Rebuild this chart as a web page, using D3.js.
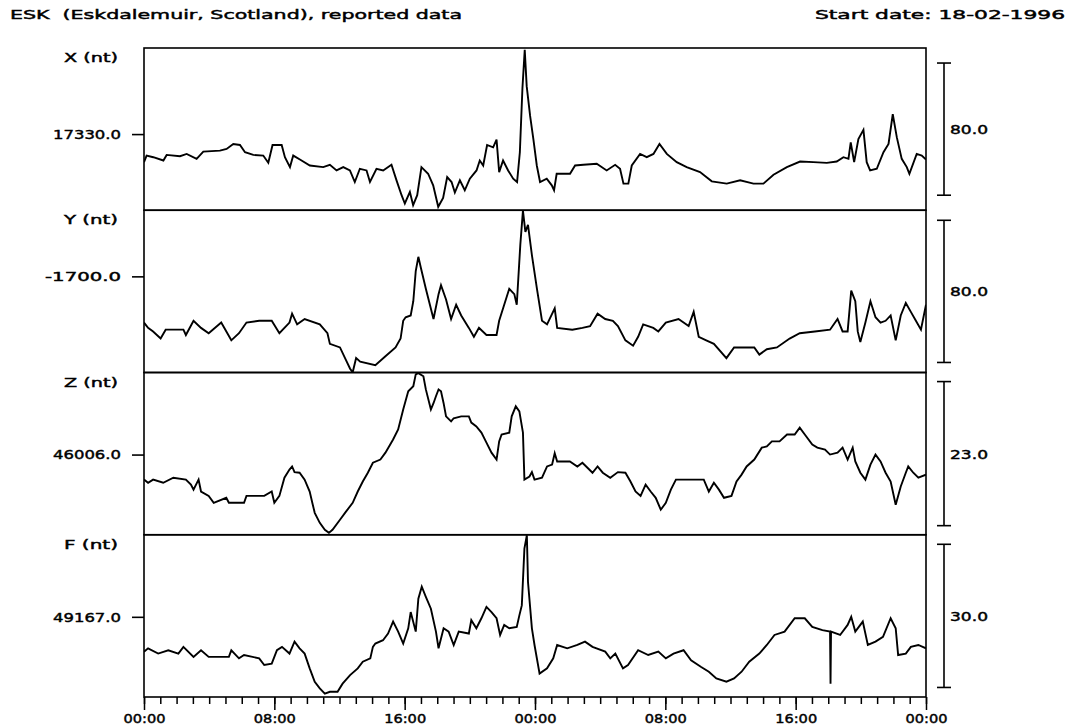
<!DOCTYPE html>
<html><head><meta charset="utf-8">
<script src="https://cdn.jsdelivr.net/npm/d3@7"></script>
<style>
body{margin:0;background:#fff}
svg{display:block}
text{font-family:"DejaVu Sans",sans-serif;font-weight:normal;font-size:13px;fill:#000;stroke:#000;stroke-width:0.45px;white-space:pre}
</style>
</head><body>
<svg id="c" width="1076" height="726"></svg>
<script>
// ---------- data ----------
const titleLeft = "ESK  (Eskdalemuir, Scotland), reported data";
const titleRight = "Start date: 18-02-1996";
const panelNames = ["X (nt)", "Y (nt)", "Z (nt)", "F (nt)"];
const tickValues = [17330.0, -1700.0, 46006.0, 49167.0];
const tickLabels = ["17330.0", "-1700.0", "46006.0", "49167.0"];
const scaleBars = [80.0, 80.0, 23.0, 30.0];
const scaleBarLabels = ["80.0", "80.0", "23.0", "30.0"];
const panelDomains = [[17283.9, 17382.1], [-1754.1, -1662.8], [45993.2, 46019.1], [49150.2, 49184.2]];
const hourTicks = [0, 8, 16, 24, 32, 40, 48];
const hourLabels = ["00:00", "08:00", "16:00", "00:00", "08:00", "16:00", "00:00"];

const xTimes = [0,0.16,0.57,1.19,1.39,2.21,2.62,3.23,3.64,4.66,5.07,5.48,5.89,6.20,6.71,7.32,7.63,7.89,8.45,8.65,8.96,9.16,9.57,10.18,11.00,11.41,11.82,12.23,12.64,12.94,13.25,13.66,13.87,14.27,14.68,15.19,15.50,15.81,16.01,16.32,16.52,16.77,17.03,17.44,17.75,18.06,18.36,18.61,18.88,19.08,19.39,19.69,20.00,20.41,20.61,20.82,21.06,21.43,21.64,21.80,22.04,22.35,22.66,22.90,23.07,23.23,23.37,23.49,23.70,23.90,24.11,24.31,24.72,25.03,25.17,25.33,26.15,26.46,26.97,27.79,28.40,28.92,29.22,29.43,29.73,29.94,30.45,30.86,31.27,31.64,32.09,32.70,33.31,34.13,34.85,35.77,36.59,37.41,38.02,38.64,39.46,40.27,41.09,41.91,42.52,42.93,43.24,43.38,43.59,43.85,44.16,44.36,44.57,44.98,45.39,45.70,45.96,46.21,46.51,46.82,46.98,47.43,47.74,48.0];
const xValues = [17313,17317,17316,17314,17317.4,17316.6,17318,17315,17319.4,17320,17321,17324,17323.4,17319,17317.4,17317,17312.6,17323.4,17323.4,17316,17310,17317,17314.6,17311,17310,17311.4,17308,17310,17308,17301,17309,17308,17301,17309,17308,17311.4,17302,17293,17288,17295,17287,17293,17310,17306,17299,17286,17291.4,17304,17301,17294.6,17302,17296,17303,17308,17314,17311,17323.4,17322,17326.6,17307,17314,17308,17303,17301,17319,17358,17381,17359,17341,17327,17311,17301,17303,17299,17296,17306,17306,17311,17311.4,17312,17308,17311.4,17309,17300,17300,17311,17318,17316,17318,17324,17318,17313,17310,17307,17301.4,17300,17302,17300,17300,17305.4,17310,17313.4,17313,17312.6,17313.4,17316,17315,17325,17313,17327,17332.6,17313,17308,17309,17319,17324,17342,17328,17315,17310,17306,17318,17317,17314.6];

const yTimes = [0,0.25,0.56,1.02,1.33,2.42,2.57,3.04,3.50,3.97,4.74,5.36,5.83,6.29,7.07,7.84,8.31,8.93,9.09,9.40,9.86,10.79,11.26,11.41,12.03,12.34,12.65,12.81,13.02,13.27,14.20,14.82,15.44,15.75,15.91,16.06,16.37,16.53,16.68,16.84,16.99,17.30,17.77,18.08,18.23,18.54,18.85,19.16,19.47,19.94,20.25,20.56,21.02,21.64,21.80,22.11,22.42,22.73,22.88,23.10,23.26,23.41,23.57,23.81,24.12,24.43,24.74,25.21,25.36,26.29,26.91,27.38,27.84,28.31,28.78,29.09,29.55,30.02,30.33,30.64,31.26,31.57,32.03,32.81,33.43,33.74,34.05,34.51,34.98,35.75,36.22,36.84,37.46,37.77,38.23,38.85,39.63,40.25,41.18,42.11,42.57,42.88,43.19,43.41,43.66,43.81,43.97,44.28,44.59,44.90,45.21,45.52,45.83,46.14,46.45,46.76,47.07,47.38,47.69,48.0];
const yValues = [-1726,-1729,-1731,-1735,-1730,-1730,-1733,-1725,-1729,-1732,-1726,-1736,-1732,-1726,-1725,-1725,-1732,-1726,-1721,-1727,-1724,-1727,-1732,-1738,-1740,-1746,-1752,-1754,-1746,-1748,-1750,-1745,-1740,-1735,-1725,-1723,-1722,-1714,-1697,-1689,-1695,-1707,-1724,-1710,-1705,-1713,-1724,-1716,-1722,-1729,-1734,-1729,-1733,-1733,-1725,-1716,-1707,-1710,-1716,-1682,-1663,-1675,-1671,-1688,-1707,-1725,-1727,-1718,-1729,-1730,-1729,-1728,-1721,-1724,-1725,-1728,-1736,-1739,-1734,-1727,-1729,-1731,-1726,-1724,-1728,-1720,-1734,-1736,-1738,-1746,-1740,-1740,-1740,-1744,-1741,-1740,-1735,-1732,-1731,-1730,-1724,-1731,-1731,-1708,-1714,-1731,-1737,-1726,-1714,-1723,-1726,-1725,-1722,-1736,-1722,-1715,-1720,-1725,-1730,-1716];

const zTimes = [0,0.25,0.56,1.18,1.80,2.57,2.88,3.04,3.35,3.50,3.97,4.28,5.05,5.21,6.14,6.29,7.38,7.84,8.00,8.31,8.62,8.93,9.09,9.24,9.55,9.86,10.17,10.33,10.48,10.79,11.10,11.35,11.57,12.03,12.34,12.81,13.12,13.43,13.74,14.05,14.51,14.82,15.29,15.60,15.91,16.22,16.53,16.68,16.84,17.15,17.30,17.61,17.77,17.92,18.08,18.23,18.39,18.54,18.85,19.01,19.47,19.94,20.09,20.40,20.71,21.02,21.33,21.64,21.80,21.95,22.42,22.57,22.82,23.04,23.26,23.35,23.66,23.81,23.97,24.43,24.74,25.05,25.21,25.36,26.14,26.60,26.91,27.22,27.53,27.84,28.16,28.62,29.09,29.55,29.86,30.17,30.48,30.79,31.10,31.41,31.72,32.03,32.34,32.65,33.74,34.36,34.67,34.98,35.29,35.60,36.06,36.37,36.68,36.99,37.46,37.92,38.23,38.54,39.01,39.47,39.94,40.25,40.56,41.02,41.33,41.80,42.11,42.57,42.88,43.19,43.50,43.66,43.97,44.28,44.59,44.90,45.21,45.52,45.83,46.14,46.45,46.76,46.91,47.22,47.53,48.0];
const zValues = [46002.0,46001.5,46002.0,46001.5,46002.3,46002.0,46001.2,46000.4,46002.0,46000.1,45999.4,45998.3,45999.1,45998.3,45998.3,45999.4,45999.4,46000.1,45998.3,45999.4,46002.3,46003.6,46004.1,46003.2,46003.1,46002.0,46000.1,45998.3,45996.7,45995.1,45994.0,45993.5,45994.0,45995.6,45996.7,45998.3,46000.1,46001.7,46003.1,46004.7,46005.2,46006.3,46008.4,46010.0,46013.2,46016.1,46016.9,46018.8,46019.0,46018.5,46016.4,46013.2,46014.2,46015.3,46016.4,46016.1,46014.2,46012.1,46011.3,46011.8,46012.1,46012.1,46011.1,46010.5,46009.5,46007.9,46006.3,46005.2,46008.1,46009.2,46009.5,46012.1,46013.7,46012.9,46009.5,46002.0,46002.5,46003.2,46002.0,46002.3,46004.1,46004.4,46006.2,46004.9,46004.9,46004.1,46004.7,46003.9,46003.1,46004.1,46003.1,46002.3,46003.2,46003.1,46001.7,46000.1,45999.4,46001.2,46000.1,45999.1,45997.2,45998.3,46000.4,46002.0,46002.0,46002.0,46000.1,46001.5,46000.4,45999.1,45999.4,46001.7,46002.8,46004.1,46005.2,46007.1,46007.3,46008.1,46008.1,46009.2,46009.2,46010.3,46009.2,46007.6,46007.1,46006.8,46006.0,46006.3,46007.1,46005.2,46007.1,46004.9,46003.1,46002.0,46004.4,46006.0,46004.9,46003.1,46001.7,45998.0,46000.9,46003.1,46004.1,46003.1,46002.3,46002.8];

const fTimes = [0,0.25,0.87,1.49,2.11,2.42,3.04,3.50,3.97,5.21,5.36,5.83,6.14,7.07,7.38,7.84,8.16,8.47,8.93,9.24,9.55,9.86,10.17,10.48,10.79,11.10,11.41,11.88,12.19,12.65,13.12,13.43,13.89,14.05,14.20,14.67,14.98,15.29,15.60,15.91,16.22,16.37,16.68,16.84,17.05,17.30,17.61,17.92,18.08,18.39,18.70,19.01,19.32,19.94,20.09,20.40,20.71,21.02,21.33,21.64,21.86,22.11,22.42,22.88,23.04,23.19,23.35,23.50,23.57,23.81,23.97,24.28,24.74,25.12,25.36,25.98,26.60,27.07,27.53,28.31,28.62,28.93,29.40,29.71,30.33,30.95,31.57,32.03,32.50,33.12,33.58,34.20,34.67,35.13,35.75,36.22,36.68,37.15,37.77,38.23,38.70,39.32,39.94,40.56,41.02,41.64,42.11,42.14,42.17,42.73,43.19,43.41,43.66,44.12,44.43,44.90,45.36,45.83,46.14,46.29,46.76,47.07,47.53,48.0];
const fValues = [49159.7,49160.4,49159.3,49160.0,49159.3,49160.7,49158.6,49160.0,49158.6,49158.6,49160.0,49158.3,49159.0,49158.3,49156.9,49157.2,49160.0,49160.7,49159.3,49161.8,49160.4,49159.3,49156.2,49153.4,49152.0,49150.9,49151.3,49151.3,49153.0,49154.8,49156.2,49157.6,49158.3,49160.7,49161.4,49162.1,49163.5,49166.0,49163.9,49161.4,49164.6,49168.0,49163.9,49170.8,49173.3,49171.2,49168.7,49163.9,49160.4,49164.6,49163.9,49161.1,49163.9,49163.5,49166.3,49164.6,49166.7,49169.1,49168.0,49166.7,49163.2,49165.3,49164.6,49164.9,49167.3,49169.4,49181.3,49184.1,49174.3,49164.6,49161.1,49155.1,49156.2,49158.3,49161.1,49160.4,49161.1,49161.8,49160.7,49159.7,49158.3,49159.3,49156.2,49156.9,49160.0,49159.0,49159.7,49158.3,49159.3,49160.0,49157.9,49156.5,49155.5,49154.1,49153.4,49154.1,49155.5,49157.6,49159.3,49161.1,49163.2,49163.9,49166.7,49166.7,49164.9,49164.2,49163.9,49153.0,49163.9,49163.2,49165.3,49167.0,49163.9,49166.0,49161.1,49161.8,49162.8,49166.7,49164.6,49159.0,49159.3,49160.7,49161.1,49160.4];

const seriesTimes = [xTimes, yTimes, zTimes, fTimes];
const seriesValues = [xValues, yValues, zValues, fValues];

// ---------- layout ----------
const svg = d3.select("#c");
svg.append("rect").attr("width", 1076).attr("height", 726).attr("fill", "#fff");
const L = 144, R = 926, T = 48, B = 697;
const nP = 4, pH = (B - T) / nP;
const x = d3.scaleLinear().domain([0, 48]).range([L, R]);

svg.append("text").attr("x", 10).attr("y", 19).attr("textLength", 452)
  .attr("lengthAdjust", "spacingAndGlyphs").text(titleLeft);
svg.append("text").attr("x", 815).attr("y", 19).attr("textLength", 250)
  .attr("lengthAdjust", "spacingAndGlyphs").text(titleRight);

const defs = svg.append("defs");

for (let i = 0; i < nP; i++) {
  const y0 = T + i * pH, y1 = y0 + pH;
  const y = d3.scaleLinear().domain(panelDomains[i]).range([y1, y0]);
  const g = svg.append("g");

  defs.append("clipPath").attr("id", "clip" + i)
    .append("rect").attr("x", L).attr("y", y0).attr("width", R - L).attr("height", pH);

  const pts = seriesTimes[i].map((t, k) => [t, seriesValues[i][k]]);
  g.append("path").datum(pts)
    .attr("clip-path", "url(#clip" + i + ")")
    .attr("fill", "none").attr("stroke", "#000").attr("stroke-width", 1.9)
    .attr("stroke-linejoin", "miter")
    .attr("d", d3.line().x(d => x(d[0])).y(d => y(d[1])));

  // panel frame
  g.append("rect").attr("x", L).attr("y", y0).attr("width", R - L).attr("height", pH)
    .attr("fill", "none").attr("stroke", "#000").attr("stroke-width", 1.6);

  // left tick + label
  const ax = d3.axisLeft(y).tickValues([tickValues[i]]).tickSize(12).tickPadding(11)
    .tickFormat(() => tickLabels[i]);
  const ag = svg.append("g").attr("transform", `translate(${L},0)`).call(ax);
  ag.select(".domain").remove();
  ag.selectAll("line").attr("stroke", "#000").attr("stroke-width", 1.6);
  ag.selectAll("text").attr("font-size", null).attr("font-family", null)
    .attr("textLength", tickLabels[i].startsWith("-") ? 76 : 68)
    .attr("lengthAdjust", "spacingAndGlyphs");

  // panel name
  svg.append("text").attr("x", 118).attr("y", y0 + 14).attr("text-anchor", "end")
    .attr("textLength", 54).attr("lengthAdjust", "spacingAndGlyphs").text(panelNames[i]);

  // scale bar
  const mid = (panelDomains[i][0] + panelDomains[i][1]) / 2;
  const ya = y(mid + scaleBars[i] / 2), yb = y(mid - scaleBars[i] / 2);
  const sb = svg.append("g").attr("stroke", "#000").attr("stroke-width", 1.6);
  sb.append("line").attr("x1", 944).attr("x2", 944).attr("y1", ya).attr("y2", yb);
  sb.append("line").attr("x1", 937).attr("x2", 951).attr("y1", ya).attr("y2", ya);
  sb.append("line").attr("x1", 937).attr("x2", 951).attr("y1", yb).attr("y2", yb);
  svg.append("text").attr("x", 950).attr("y", (ya + yb) / 2 + 5)
    .attr("textLength", 38).attr("lengthAdjust", "spacingAndGlyphs").text(scaleBarLabels[i]);
}

// bottom time axis: minor hourly ticks and major 8-hourly ticks
const minor = d3.axisBottom(x).tickValues(d3.range(0, 49)).tickSize(7).tickFormat("");
const mg = svg.append("g").attr("transform", `translate(0,${B})`).call(minor);
mg.select(".domain").remove();
mg.selectAll("line").attr("stroke", "#000").attr("stroke-width", 1.5);

const major = d3.axisBottom(x).tickValues(hourTicks).tickSize(13).tickPadding(4)
  .tickFormat((d, k) => hourLabels[k]);
const Mg = svg.append("g").attr("transform", `translate(0,${B})`).call(major);
Mg.select(".domain").remove();
Mg.selectAll("line").attr("stroke", "#000").attr("stroke-width", 1.5);
Mg.selectAll("text").attr("font-size", null).attr("font-family", null)
  .attr("textLength", 42).attr("lengthAdjust", "spacingAndGlyphs");
</script>
</body></html>
